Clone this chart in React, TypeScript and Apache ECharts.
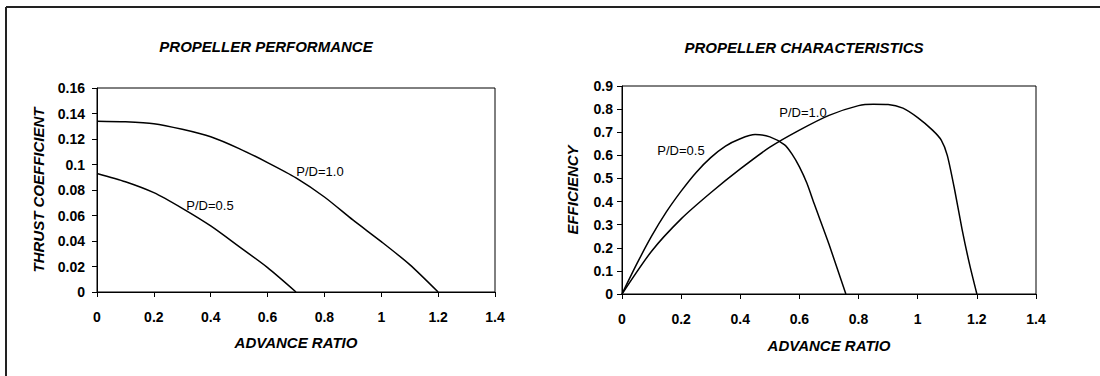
import React, { useEffect, useRef } from "react";
import * as echarts from "echarts";

// Thrust coefficient vs advance ratio
const J_KT_10 = [0, 0.1, 0.2, 0.3, 0.4, 0.5, 0.6, 0.7, 0.8, 0.9, 1.0, 1.1, 1.2];
const KT_10 = [0.134, 0.1335, 0.132, 0.1276, 0.1218, 0.1125, 0.1015, 0.0895, 0.0745, 0.0565, 0.0395, 0.0215, 0];
const J_KT_05 = [0, 0.1, 0.2, 0.3, 0.4, 0.5, 0.6, 0.7];
const KT_05 = [0.093, 0.0865, 0.0779, 0.0656, 0.0518, 0.0356, 0.0191, 0];

// Efficiency vs advance ratio
const J_ETA_10 = [0, 0.1, 0.2, 0.3, 0.4, 0.5, 0.6, 0.7, 0.8, 0.85, 0.9, 0.95, 1.0, 1.05, 1.08, 1.1, 1.125, 1.15, 1.175, 1.2];
const ETA_10 = [0, 0.185, 0.325, 0.438, 0.541, 0.635, 0.709, 0.773, 0.815, 0.821, 0.82, 0.804, 0.763, 0.709, 0.665, 0.6, 0.45, 0.28, 0.13, 0];
const J_ETA_05 = [0, 0.05, 0.1, 0.15, 0.2, 0.25, 0.3, 0.35, 0.4, 0.45, 0.5, 0.55, 0.575, 0.6, 0.625, 0.65, 0.7, 0.757];
const ETA_05 = [0, 0.13, 0.25, 0.355, 0.445, 0.525, 0.59, 0.64, 0.672, 0.69, 0.68, 0.645, 0.605, 0.55, 0.48, 0.39, 0.215, 0];

const X_TICKS = { min: 0, max: 1.4, interval: 0.2 };
const KT_TICKS = { min: 0, max: 0.16, interval: 0.02 };
const ETA_TICKS = { min: 0, max: 0.9, interval: 0.1 };

const TITLES = ["PROPELLER PERFORMANCE", "PROPELLER CHARACTERISTICS"];
const X_NAME = "ADVANCE RATIO";
const Y_NAMES = ["THRUST COEFFICIENT", "EFFICIENCY"];
const CURVE_LABELS = ["P/D=1.0", "P/D=0.5"];

const zip = (xs: number[], ys: number[]) => xs.map((x, i) => [x, ys[i]]);

const FONT = "Arial, 'Liberation Sans', sans-serif";

export default function App() {
  const ref = useRef<HTMLDivElement>(null);
  useEffect(() => {
    if (!ref.current) return;
    const chart = echarts.init(ref.current, undefined, { renderer: "svg" });
    const fmt = (d: number) => (v: number) => String(+v.toFixed(d));
    const tickLabel = { color: "#000", fontWeight: "bold" as const, fontSize: 14, fontFamily: FONT };
    const nameStyle = { color: "#000", fontWeight: "bold" as const, fontStyle: "italic" as const, fontSize: 15, fontFamily: FONT };
    const axisLine = { show: true, lineStyle: { color: "#000", width: 1 } };
    const axisTick = { show: true, inside: false, length: 5, lineStyle: { color: "#000", width: 1 } };
    const xAxisBase = (gridIndex: number, gap: number) => ({
      type: "value",
      gridIndex,
      ...X_TICKS,
      name: X_NAME,
      nameLocation: "middle",
      nameGap: gap,
      nameTextStyle: nameStyle,
      axisLine,
      axisTick,
      splitLine: { show: false },
      axisLabel: { ...tickLabel, margin: 18, formatter: fmt(1) },
    });
    const lineStyle = { color: "#000", width: 1.5 };
    const lineSeries = (xi: number, data: number[][]) => ({
      type: "line",
      xAxisIndex: xi,
      yAxisIndex: xi,
      data,
      smooth: 0.25,
      symbol: "none",
      lineStyle,
    });
    const titleFont = `italic bold 15px ${FONT}`;
    const labelFont = `13px ${FONT}`;
    chart.setOption({
      animation: false,
      backgroundColor: "#fff",
      grid: [
        { left: 97, top: 88, width: 398, height: 204, show: true, borderColor: "#000", borderWidth: 1 },
        { left: 622, top: 86, width: 414, height: 208, show: true, borderColor: "#000", borderWidth: 1 },
      ],
      xAxis: [xAxisBase(0, 43), xAxisBase(1, 44)],
      yAxis: [
        {
          type: "value",
          gridIndex: 0,
          ...KT_TICKS,
          name: Y_NAMES[0],
          nameLocation: "middle",
          nameGap: 51,
          nameTextStyle: nameStyle,
          axisLine,
          axisTick,
          splitLine: { show: false },
          axisLabel: { ...tickLabel, margin: 12, formatter: fmt(2) },
        },
        {
          type: "value",
          gridIndex: 1,
          ...ETA_TICKS,
          name: Y_NAMES[1],
          nameLocation: "middle",
          nameGap: 42,
          nameTextStyle: nameStyle,
          axisLine,
          axisTick,
          splitLine: { show: false },
          axisLabel: { ...tickLabel, margin: 9, formatter: fmt(1) },
        },
      ],
      series: [
        lineSeries(0, zip(J_KT_10, KT_10)),
        lineSeries(0, zip(J_KT_05, KT_05)),
        lineSeries(1, zip(J_ETA_10, ETA_10)),
        lineSeries(1, zip(J_ETA_05, ETA_05)),
      ],
      graphic: [
        { type: "line", shape: { x1: 6, y1: 7, x2: 1100, y2: 7 }, style: { stroke: "#222", lineWidth: 2 } },
        { type: "line", shape: { x1: 6, y1: 7, x2: 6, y2: 376 }, style: { stroke: "#222", lineWidth: 2 } },
        {
          type: "text", x: 266, y: 46,
          style: { text: TITLES[0], textAlign: "center", textVerticalAlign: "middle", font: titleFont, fill: "#000" },
        },
        {
          type: "text", x: 804, y: 47,
          style: { text: TITLES[1], textAlign: "center", textVerticalAlign: "middle", font: titleFont, fill: "#000" },
        },
        {
          type: "text", x: 320, y: 171,
          style: { text: CURVE_LABELS[0], textAlign: "center", textVerticalAlign: "middle", font: labelFont, fill: "#000" },
        },
        {
          type: "text", x: 210, y: 205,
          style: { text: CURVE_LABELS[1], textAlign: "center", textVerticalAlign: "middle", font: labelFont, fill: "#000" },
        },
        {
          type: "text", x: 803, y: 112,
          style: { text: CURVE_LABELS[0], textAlign: "center", textVerticalAlign: "middle", font: labelFont, fill: "#000" },
        },
        {
          type: "text", x: 681, y: 150,
          style: { text: CURVE_LABELS[1], textAlign: "center", textVerticalAlign: "middle", font: labelFont, fill: "#000" },
        },
      ],
    });
    return () => chart.dispose();
  }, []);
  return <div ref={ref} style={{ position: "fixed", left: 0, top: 0, width: 1100, height: 376 }} />;
}
